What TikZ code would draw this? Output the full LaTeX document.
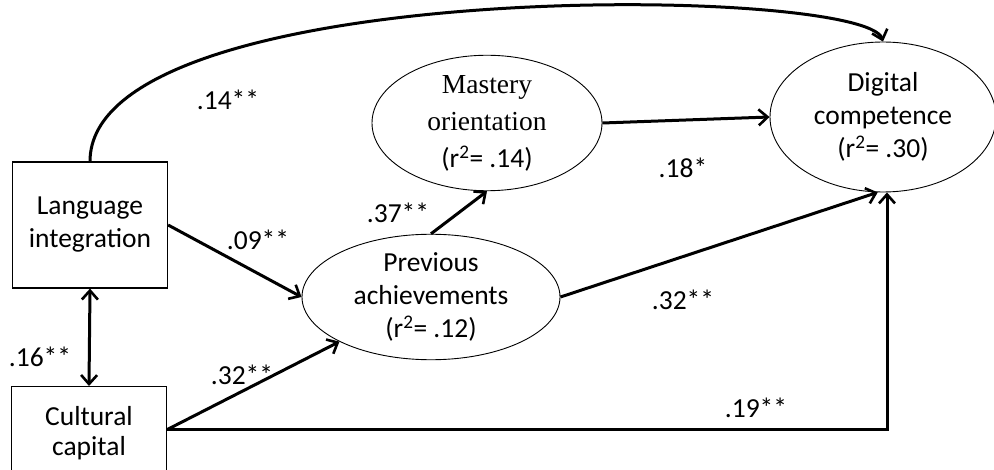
\documentclass[tikz,border=0pt]{standalone}
\usepackage{fontspec}
\setmainfont{Carlito}
\newfontfamily\timesf{Liberation Serif}
\usetikzlibrary{shapes.geometric,arrows.meta,calc}
\begin{document}
\begin{tikzpicture}[x=1pt,y=1pt,
  every node/.style={font=\fontsize{27.5}{33}\selectfont},
  boxnode/.style={draw,line width=1.2pt,rectangle,minimum width=155pt,inner sep=0pt,align=center},
  ellnode/.style={draw,line width=0.9pt,ellipse,inner sep=0pt,align=center},
  arr/.style={line width=3pt,-{Straight Barb[length=9pt,width=16pt,line width=2.6pt]}},
  coef/.style={inner sep=0pt}
]
\useasboundingbox (0,0) rectangle (994,-470);
\clip (0,0) rectangle (994,-470);
\fill[white] (0,0) rectangle (994,-470);

\node[boxnode,minimum height=126pt] (lang) at (90,-225) {Language\\integration};
\node[boxnode,minimum height=90pt,anchor=north] (cult) at (89,-386) {};
\node[font=\fontsize{27.5}{30}\selectfont,align=center] (culttext) at (89,-433) {Cultural\\capital};

\node[ellnode,minimum width=230pt,minimum height=120pt,font=\fontsize{27.5}{37}\selectfont] (mast) at (487,-123)
  {\timesf Mastery\\\timesf orientation\\(r\textsuperscript{2}= .14)};
\node[ellnode,minimum width=258pt,minimum height=114pt] (prev) at (431,-297)
  {Previous\\achievements\\(r\textsuperscript{2}= .12)};
\node[ellnode,minimum width=226pt,minimum height=150pt] (dig) at (883,-117)
  {Digital\\competence\\(r\textsuperscript{2}= .30)};

% curved path
\draw[arr] (lang.north) .. controls (90,25) and (865,15) .. (dig.north);
% language -> previous
\draw[arr] (lang.east) -- (prev.west);
% previous -> mastery
\draw[arr] (prev.north) -- (mast.south);
% mastery -> digital
\draw[arr] (mast.east) -- (dig.west);
% previous -> digital
\draw[arr] (prev.east) -- (dig.266);
% cultural -> previous
\coordinate (ce) at ($(cult.east)+(0,2)$);
\draw[arr] (ce) -- (prev.206);
% cultural -> digital
\draw[arr] (ce) -| ($(dig.south)+(4,0)$);
% covariance
\draw[line width=3pt,{Straight Barb[length=9pt,width=16pt,line width=2.6pt]}-{Straight Barb[length=9pt,width=16pt,line width=2.6pt]}] (lang.south) -- (cult.north);

\node[coef] (c14) at (228,-100) {.14**};
\node[coef] (c09) at (258,-240) {.09**};
\node[coef] (c37) at (398,-213) {.37**};
\node[coef] (c18) at (683,-168) {.18*};
\node[coef] (c32a) at (683,-300) {.32**};
\node[coef] (c32b) at (242,-375) {.32**};
\node[coef] (c16) at (40,-357) {.16**};
\node[coef] (c19) at (756,-408) {.19**};
\end{tikzpicture}
\end{document}
